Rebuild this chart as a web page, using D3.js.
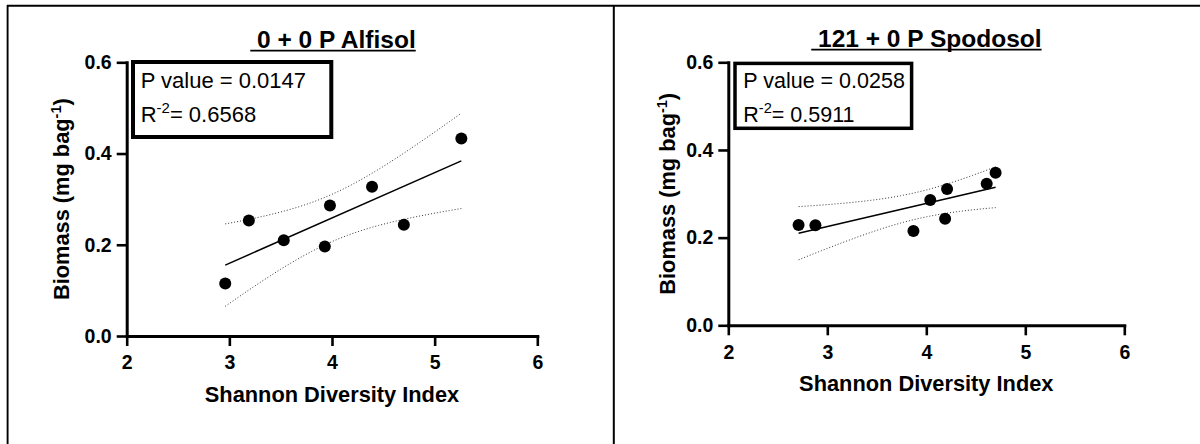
<!DOCTYPE html>
<html>
<head>
<meta charset="utf-8">
<script src="https://cdn.jsdelivr.net/npm/d3@7"></script>
<style>
  html, body { margin: 0; padding: 0; background: #fff; }
  svg { display: block; font-family: "Liberation Sans", Arial, sans-serif; }
</style>
</head>
<body>
<svg id="chart" width="1200" height="444"></svg>
<script>
// Shannon diversity index (x) and litter-bag biomass (y, mg bag^-1) per plot
const alfisolShannon  = [2.96, 3.19, 3.53, 3.93, 3.98, 4.39, 4.70, 5.26];
const alfisolBiomass  = [0.115, 0.253, 0.210, 0.196, 0.286, 0.327, 0.244, 0.433];
const spodosolShannon = [2.71, 2.88, 3.87, 4.04, 4.19, 4.21, 4.61, 4.70];
const spodosolBiomass = [0.229, 0.228, 0.215, 0.286, 0.243, 0.311, 0.323, 0.348];

const panelTitles    = ["0 + 0 P Alfisol", "121 + 0 P Spodosol"];
const pValueLabels   = ["0.0147", "0.0258"];
const rSquaredLabels = ["0.6568", "0.5911"];
const xTicks = [2, 3, 4, 5, 6];
const yTicks = [0, 0.2, 0.4, 0.6];
const xTitle = "Shannon Diversity Index";

// Two-sided 95% Student t critical values by degrees of freedom
const tCrit = {4: 2.776, 5: 2.571, 6: 2.447, 7: 2.365, 8: 2.306};

const svg = d3.select("#chart");

// Frame around the two panels
const frame = svg.append("g").attr("stroke", "#000").attr("fill", "none");
frame.append("line").attr("x1", 7).attr("x2", 1200).attr("y1", 5.7).attr("y2", 5.7).attr("stroke-width", 1.9);
frame.append("line").attr("x1", 7.6).attr("x2", 7.6).attr("y1", 5).attr("y2", 444).attr("stroke-width", 1.9);
frame.append("line").attr("x1", 613.8).attr("x2", 613.8).attr("y1", 5).attr("y2", 444).attr("stroke-width", 2);

const panels = [
  { xs: alfisolShannon, ys: alfisolBiomass, title: panelTitles[0], p: pValueLabels[0], r2: rSquaredLabels[0],
    left: 126.7, right: 537.3, bottom: 336, top: 62.3,
    titleX: 333, titleY: 48, yLabelX: 69, xLabelY: 402,
    box: { x: 133, y: 62, w: 198.3, h: 75, sw: 4, tx: 140.7, l1: 87.7, l2: 121.7, fs: 22 } },
  { xs: spodosolShannon, ys: spodosolBiomass, title: panelTitles[1], p: pValueLabels[1], r2: rSquaredLabels[1],
    left: 728.3, right: 1124.3, bottom: 325.3, top: 62.3,
    titleX: 926.4, titleY: 47, yLabelX: 675, xLabelY: 391,
    box: { x: 735, y: 63.4, w: 176.6, h: 64.9, sw: 3.5, tx: 743.3, l1: 88.3, l2: 121.7, fs: 21.5 } }
];

function linearFit(xs, ys) {
  const n = xs.length;
  const mx = d3.mean(xs), my = d3.mean(ys);
  const sxx = d3.sum(xs, x => (x - mx) ** 2);
  const sxy = d3.sum(xs, (x, i) => (x - mx) * (ys[i] - my));
  const slope = sxy / sxx;
  const intercept = my - slope * mx;
  const sse = d3.sum(xs, (x, i) => (ys[i] - (intercept + slope * x)) ** 2);
  const s = Math.sqrt(sse / (n - 2));
  const t = tCrit[n - 2];
  return {
    predict: x => intercept + slope * x,
    halfWidth: x => t * s * Math.sqrt(1 / n + (x - mx) ** 2 / sxx)
  };
}

panels.forEach(pn => {
  const g = svg.append("g");
  const x = d3.scaleLinear().domain([2, 6]).range([pn.left, pn.right]);
  const y = d3.scaleLinear().domain([0, 0.6]).range([pn.bottom, pn.top]);

  // Axes
  const xAxis = g.append("g").attr("transform", `translate(0,${pn.bottom})`)
    .call(d3.axisBottom(x).tickValues(xTicks).tickFormat(d3.format("d")).tickSize(10).tickSizeOuter(0).tickPadding(9.5));
  const yAxis = g.append("g").attr("transform", `translate(${pn.left},0)`)
    .call(d3.axisLeft(y).tickValues(yTicks).tickFormat(d3.format(".1f")).tickSize(10).tickSizeOuter(0).tickPadding(5));
  [xAxis, yAxis].forEach(a => {
    a.select(".domain").attr("stroke", "#000").attr("stroke-width", 3).attr("stroke-linecap", "square");
    a.selectAll(".tick line").attr("stroke", "#000").attr("stroke-width", 2.6);
    a.selectAll(".tick text").attr("fill", "#000").attr("font-size", 19.5).attr("font-weight", "bold")
      .attr("font-family", "'Liberation Sans', Arial, sans-serif");
  });

  // Regression line with 95% confidence band
  const fit = linearFit(pn.xs, pn.ys);
  const [xmin, xmax] = d3.extent(pn.xs);
  const grid = d3.range(0, 61).map(i => xmin + (xmax - xmin) * i / 60);
  const line = d3.line().x(d => x(d[0])).y(d => y(d[1]));
  g.append("path").attr("d", line(grid.map(v => [v, fit.predict(v) + fit.halfWidth(v)])))
    .attr("fill", "none").attr("stroke", "#333").attr("stroke-width", 1).attr("stroke-dasharray", "1,2");
  g.append("path").attr("d", line(grid.map(v => [v, fit.predict(v) - fit.halfWidth(v)])))
    .attr("fill", "none").attr("stroke", "#333").attr("stroke-width", 1).attr("stroke-dasharray", "1,2");
  g.append("path").attr("d", line([[xmin, fit.predict(xmin)], [xmax, fit.predict(xmax)]]))
    .attr("fill", "none").attr("stroke", "#000").attr("stroke-width", 1.5);

  // Observations
  g.selectAll("circle.obs").data(pn.xs.map((v, i) => [v, pn.ys[i]])).join("circle")
    .attr("class", "obs").attr("cx", d => x(d[0])).attr("cy", d => y(d[1])).attr("r", 6).attr("fill", "#000");

  // Statistics box
  const b = pn.box;
  g.append("rect").attr("x", b.x).attr("y", b.y).attr("width", b.w).attr("height", b.h)
    .attr("fill", "#fff").attr("stroke", "#000").attr("stroke-width", b.sw);
  g.append("text").attr("x", b.tx).attr("y", b.l1).attr("font-size", b.fs).text(`P value = ${pn.p}`);
  const r = g.append("text").attr("x", b.tx).attr("y", b.l2).attr("font-size", b.fs);
  r.append("tspan").text("R");
  r.append("tspan").attr("dy", -9).attr("font-size", b.fs * 0.68).text("-2");
  r.append("tspan").attr("dy", 9).text(`= ${pn.r2}`);

  // Underlined panel title
  const title = g.append("text").attr("x", pn.titleX).attr("y", pn.titleY).attr("text-anchor", "middle")
    .attr("font-size", 24.5).attr("font-weight", "bold").attr("xml:space", "preserve")
    .text("\u00a0" + pn.title);
  const tb = title.node().getBBox();
  g.append("line").attr("x1", tb.x).attr("x2", tb.x + tb.width)
    .attr("y1", pn.titleY + 2.6).attr("y2", pn.titleY + 2.6).attr("stroke", "#000").attr("stroke-width", 1.7);

  // Axis titles
  g.append("text").attr("x", (pn.left + pn.right) / 2).attr("y", pn.xLabelY).attr("text-anchor", "middle")
    .attr("font-size", 21.8).attr("font-weight", "bold").text(xTitle);
  const yl = g.append("text").attr("transform", `translate(${pn.yLabelX},${(pn.top + pn.bottom) / 2}) rotate(-90)`)
    .attr("text-anchor", "middle").attr("font-size", 21.8).attr("font-weight", "bold");
  yl.append("tspan").text("Biomass (mg bag");
  yl.append("tspan").attr("dy", -8).attr("font-size", 14.5).text("-1");
  yl.append("tspan").attr("dy", 8).text(")");
});
</script>
</body>
</html>
